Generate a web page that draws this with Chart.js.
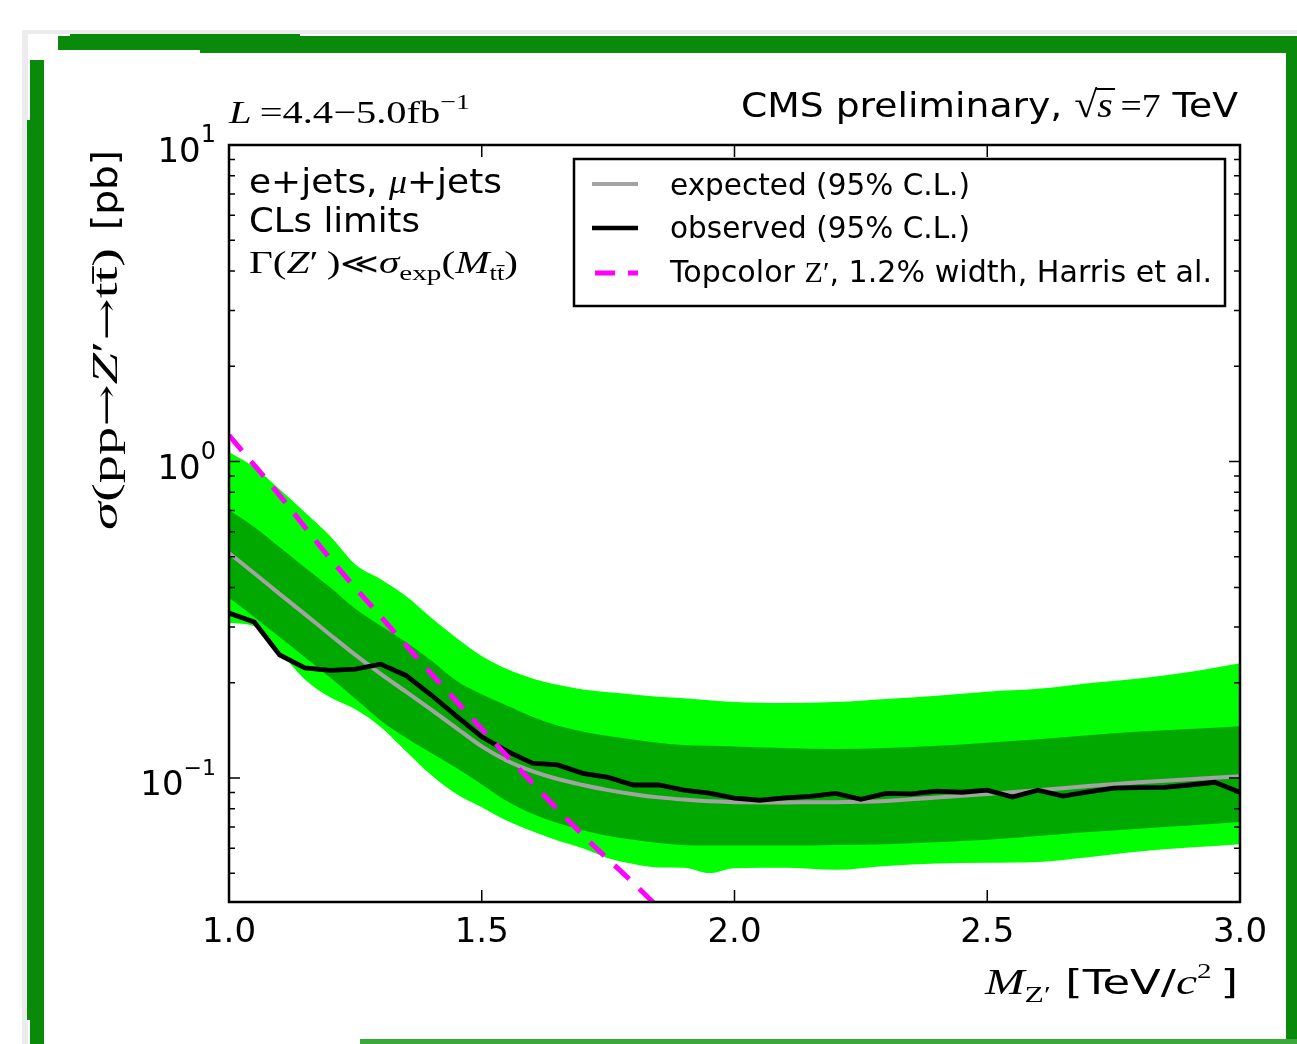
<!DOCTYPE html>
<html><head><meta charset="utf-8">
<script src="https://cdn.jsdelivr.net/npm/chart.js@4/dist/chart.umd.min.js"></script>
<style>html,body{margin:0;padding:0;background:#fff;}canvas{display:block;}</style>
</head><body>
<canvas id="c" width="1297" height="1044"></canvas>
<script>
// ---- data ----
const bandMass = [1.00,1.05,1.10,1.15,1.20,1.25,1.30,1.35,1.40,1.45,1.50,1.55,1.60,1.65,1.70,1.75,1.80,1.85,1.90,1.95,2.00,2.10,2.20,2.30,2.40,2.50,2.60,2.70,2.80,2.90,3.00];
const band2Up = [1.072,0.959,0.817,0.692,0.582,0.473,0.425,0.376,0.321,0.277,0.243,0.221,0.2065,0.197,0.1905,0.1866,0.1837,0.1807,0.1786,0.1762,0.1738,0.1726,0.1738,0.1778,0.182,0.1875,0.1914,0.1995,0.2065,0.2163,0.2307];
const band1Up = [0.703,0.621,0.537,0.463,0.401,0.343,0.303,0.269,0.235,0.203,0.184,0.1694,0.1563,0.1466,0.1403,0.1358,0.1324,0.1294,0.1271,0.1265,0.1259,0.1245,0.1236,0.1245,0.1265,0.1294,0.1327,0.1365,0.1403,0.1429,0.1459];
const expectedLimit = [0.514,0.4436,0.382,0.3296,0.2838,0.2449,0.2133,0.1875,0.1644,0.1439,0.1259,0.1135,0.1052,0.0993,0.0951,0.0916,0.0889,0.0869,0.0855,0.0845,0.0839,0.0838,0.0839,0.0847,0.0868,0.0891,0.0916,0.0944,0.0970,0.0991,0.1014];
const band1Down = [0.371,0.323,0.279,0.241,0.208,0.178,0.152,0.134,0.120,0.1076,0.0955,0.0845,0.0771,0.0721,0.0684,0.0656,0.0638,0.0624,0.0614,0.0612,0.0612,0.0612,0.0615,0.0618,0.0627,0.0638,0.0656,0.0675,0.0692,0.0708,0.0726];
const band2Down = [0.309,0.302,0.251,0.205,0.180,0.165,0.145,0.1216,0.1023,0.0891,0.0809,0.0733,0.0679,0.0635,0.0600,0.0558,0.0535,0.0522,0.0521,0.0501,0.0519,0.0521,0.0513,0.0528,0.0537,0.0540,0.0543,0.0562,0.0586,0.0603,0.0618];

const obsMass = [1.00,1.05,1.10,1.15,1.20,1.25,1.30,1.35,1.40,1.45,1.50,1.55,1.60,1.65,1.70,1.75,1.80,1.85,1.90,1.95,2.00,2.05,2.10,2.15,2.20,2.25,2.30,2.35,2.40,2.45,2.50,2.55,2.60,2.65,2.70,2.75,2.80,2.85,2.90,2.95,3.00];
const observedLimit = [0.332,0.311,0.245,0.223,0.219,0.221,0.229,0.211,0.183,0.157,0.135,0.1216,0.1114,0.110,0.1035,0.1005,0.0951,0.0951,0.0916,0.0897,0.0865,0.0851,0.0866,0.0875,0.0895,0.0857,0.0895,0.0891,0.091,0.0902,0.0916,0.0871,0.0916,0.0877,0.0904,0.0929,0.0933,0.0935,0.0951,0.097,0.0902];

const topMass = [1.0,1.1,1.2,1.3,1.4,1.5,1.6,1.7,1.8,1.9];
const topcolorXsec = [1.21,0.782,0.494,0.324,0.214,0.143,0.0966,0.066,0.0466,0.0324];

const xTicks = [1.0,1.5,2.0,2.5,3.0];
const xTickLabels = ['1.0','1.5','2.0','2.5','3.0'];
const yTicks = [0.1,1,10];
const yTickExp = ['\u22121','0','1'];

const legendLabels = ['expected (95% C.L.)','observed (95% C.L.)'];

// ---- helpers ----
const SANS = 'DejaVu Sans';
const SERIF = 'Liberation Serif';
const ARROWF = 'DejaVu Serif';
function pts(xs, ys){ return xs.map((m,i)=>({x:m,y:ys[i]})); }
function drawRuns(ctx, runs, x, y, align, target){
  let w = 0;
  for (const r of runs){ ctx.font = r.f; r._w = ctx.measureText(r.t).width; w += r._w; }
  const sx = target ? target / w : 1;
  ctx.save();
  ctx.translate(x, y); ctx.scale(sx, 1);
  ctx.textAlign = 'left'; ctx.textBaseline = 'alphabetic';
  let cx = align === 'right' ? -w : (align === 'center' ? -w/2 : 0);
  for (const r of runs){
    ctx.font = r.f;
    ctx.fillText(r.t, cx, r.dy || 0);
    if (r.over){
      ctx.save(); ctx.lineWidth = 2; ctx.beginPath();
      ctx.moveTo(cx - 1, r.over); ctx.lineTo(cx + r._w + 2, r.over); ctx.stroke(); ctx.restore();
    }
    cx += r._w;
  }
  ctx.restore();
}

const decor = {
  id: 'decor',
  beforeDraw(chart){
    const ctx = chart.ctx;
    ctx.save();
    ctx.fillStyle = '#ffffff'; ctx.fillRect(0,0,chart.width,chart.height);
    ctx.fillStyle = '#ececec';
    ctx.fillRect(22,30,1275,4); ctx.fillRect(22,30,6,1014);
    ctx.fillStyle = '#0a8a0a';
    ctx.fillRect(58,36,1239,14);
    ctx.fillRect(200,47,1097,6);
    ctx.fillRect(70,34,230,3);
    ctx.fillRect(30,60,14,984);
    ctx.fillRect(27,120,6,900);
    ctx.fillRect(1286,52,11,992);
    ctx.fillStyle = '#3aa83a';
    ctx.fillRect(360,1039,937,5);
    ctx.restore();
  },
  afterDraw(chart){
    const ctx = chart.ctx, a = chart.chartArea;
    const xs = chart.scales.x, ys = chart.scales.y;
    ctx.save();
    ctx.fillStyle = '#000'; ctx.strokeStyle = '#000';
    // ticks
    ctx.lineWidth = 1.5;
    ctx.beginPath();
    for (const v of xTicks){
      const p = xs.getPixelForValue(v);
      ctx.moveTo(p, a.bottom); ctx.lineTo(p, a.bottom - 12);
      ctx.moveTo(p, a.top); ctx.lineTo(p, a.top + 12);
    }
    for (const v of yTicks){
      const p = ys.getPixelForValue(v);
      ctx.moveTo(a.left, p); ctx.lineTo(a.left + 11, p);
      ctx.moveTo(a.right, p); ctx.lineTo(a.right - 11, p);
    }
    for (let e = -2; e <= 0; e++){
      for (let k = 2; k <= 9; k++){
        const v = k * Math.pow(10, e);
        if (v <= ys.min || v >= ys.max) continue;
        const p = ys.getPixelForValue(v);
        ctx.moveTo(a.left, p); ctx.lineTo(a.left + 6, p);
        ctx.moveTo(a.right, p); ctx.lineTo(a.right - 6, p);
      }
    }
    ctx.stroke();
    ctx.lineWidth = 2.5;
    ctx.strokeRect(a.left, a.top, a.right - a.left, a.bottom - a.top);

    // x tick labels
    ctx.font = '34px "' + SANS + '"'; ctx.textAlign = 'center'; ctx.textBaseline = 'alphabetic';
    xTicks.forEach((v,i)=>{ ctx.fillText(xTickLabels[i], xs.getPixelForValue(v), 942); });
    // y tick labels
    yTicks.forEach((v,i)=>{
      const p = ys.getPixelForValue(v);
      drawRuns(ctx, [{t:'10', f:'34px "'+SANS+'"'}, {t:yTickExp[i], f:(i===0?'22px':'24px')+' "'+SANS+'"', dy:-20}], 216, p + 17, 'right');
    });

    // axis titles
    drawRuns(ctx, [
      {t:'M', f:'italic 36px "'+SERIF+'"'},
      {t:'Z\u2032', f:'24px "'+SERIF+'"', dy:8},
      {t:' [TeV/', f:'34px "'+SANS+'"'},
      {t:'c', f:'italic 36px "'+SERIF+'"'},
      {t:'2', f:'22px "'+SERIF+'"', dy:-16},
      {t:'\u2009]', f:'34px "'+SANS+'"'}
    ], 1238, 994, 'right', 253);
    ctx.save();
    ctx.translate(117, 530); ctx.rotate(-Math.PI/2);
    drawRuns(ctx, [
      {t:'\u03c3', f:'italic 36px "'+SERIF+'"'},
      {t:'(pp', f:'36px "'+SERIF+'"'},
      {t:'\u2192', f:'32px "'+ARROWF+'"'},
      {t:'Z', f:'italic 36px "'+SERIF+'"'},
      {t:'\u2032', f:'36px "'+SERIF+'"'},
      {t:'\u2192', f:'32px "'+ARROWF+'"'},
      {t:'tt\u0304)', f:'36px "'+SERIF+'"'}
    ], 0, 0, 'left', 282);
    drawRuns(ctx, [{t:'[pb]', f:'35px "'+SANS+'"'}], 300, 0, 'left', 80);
    ctx.restore();

    // header texts
    drawRuns(ctx, [
      {t:'L', f:'italic 32px "'+SERIF+'"'},
      {t:'\u2009=4.4\u22125.0fb', f:'32px "'+SERIF+'"'},
      {t:'\u22121', f:'22px "'+SERIF+'"', dy:-14}
    ], 229, 123, 'left', 241);
    drawRuns(ctx, [
      {t:'CMS preliminary, ', f:'34px "'+SANS+'"'},
      {t:'\u221a', f:'38px "'+SERIF+'"'},
      {t:'s', f:'italic 36px "'+SERIF+'"', over:-28},
      {t:'\u2009=7', f:'34px "'+SERIF+'"'},
      {t:' TeV', f:'34px "'+SANS+'"'}
    ], 1238, 117, 'right', 497);

    // inner annotations
    drawRuns(ctx, [
      {t:'e+jets, ', f:'34px "'+SANS+'"'},
      {t:'\u03bc', f:'italic 34px "'+SERIF+'"'},
      {t:'+jets', f:'34px "'+SANS+'"'}
    ], 249, 193, 'left', 253);
    drawRuns(ctx, [{t:'CLs limits', f:'34px "'+SANS+'"'}], 249, 232, 'left', 171);
    drawRuns(ctx, [
      {t:'\u0393(', f:'31px "'+SERIF+'"'},
      {t:'Z', f:'italic 31px "'+SERIF+'"'},
      {t:'\u2032\u2009)', f:'31px "'+SERIF+'"'},
      {t:'\u226a', f:'28px "'+ARROWF+'"'},
      {t:'\u03c3', f:'italic 31px "'+SERIF+'"'},
      {t:'exp', f:'22px "'+SERIF+'"', dy:7},
      {t:'(', f:'31px "'+SERIF+'"'},
      {t:'M', f:'italic 31px "'+SERIF+'"'},
      {t:'tt\u0304', f:'20px "'+SERIF+'"', dy:7},
      {t:')', f:'31px "'+SERIF+'"'}
    ], 249, 273, 'left', 269);

    // legend box
    ctx.fillStyle = '#fff';
    ctx.fillRect(574, 159, 651, 147);
    ctx.lineWidth = 2.5; ctx.strokeStyle = '#000';
    ctx.strokeRect(574, 159, 651, 147);
    ctx.lineCap = 'butt';
    ctx.lineWidth = 4; ctx.strokeStyle = '#a3a3a3';
    ctx.beginPath(); ctx.moveTo(592,184); ctx.lineTo(638,184); ctx.stroke();
    ctx.lineWidth = 4.5; ctx.strokeStyle = '#000';
    ctx.beginPath(); ctx.moveTo(592,228); ctx.lineTo(638,228); ctx.stroke();
    ctx.lineWidth = 5; ctx.strokeStyle = '#ff00ff'; ctx.setLineDash([20,13]);
    ctx.beginPath(); ctx.moveTo(595,273); ctx.lineTo(638,273); ctx.stroke();
    ctx.setLineDash([]);
    ctx.fillStyle = '#000';
    drawRuns(ctx, [{t:legendLabels[0], f:'30px "'+SANS+'"'}], 670, 195, 'left', 300);
    drawRuns(ctx, [{t:legendLabels[1], f:'30px "'+SANS+'"'}], 670, 238, 'left', 300);
    drawRuns(ctx, [
      {t:'Topcolor ', f:'30px "'+SANS+'"'},
      {t:'Z\u2032', f:'30px "'+SERIF+'"'},
      {t:', 1.2% width, Harris et al.', f:'30px "'+SANS+'"'}
    ], 670, 282, 'left', 542);
    ctx.restore();
  }
};

new Chart(document.getElementById('c'), {
  type: 'line',
  data: {
    datasets: [
      {label:'+2 sigma', data: pts(bandMass, band2Up), fill:'+1', backgroundColor:'#00ff00', borderWidth:0, pointRadius:0, cubicInterpolationMode:'monotone', order:10},
      {label:'-2 sigma', data: pts(bandMass, band2Down), fill:false, borderWidth:0, pointRadius:0, cubicInterpolationMode:'monotone', order:10},
      {label:'+1 sigma', data: pts(bandMass, band1Up), fill:'+1', backgroundColor:'#00a800', borderWidth:0, pointRadius:0, cubicInterpolationMode:'monotone', order:9},
      {label:'-1 sigma', data: pts(bandMass, band1Down), fill:false, borderWidth:0, pointRadius:0, cubicInterpolationMode:'monotone', order:9},
      {label:'expected', data: pts(bandMass, expectedLimit), borderColor:'#a3a3a3', borderWidth:4, pointRadius:0, fill:false, cubicInterpolationMode:'monotone', order:5, clip:0},
      {label:'observed', data: pts(obsMass, observedLimit), borderColor:'#000000', borderWidth:4.8, pointRadius:0, fill:false, tension:0, order:4, clip:0},
      {label:'topcolor', data: pts(topMass, topcolorXsec), borderColor:'#ff00ff', borderWidth:5, borderDash:[20,14], pointRadius:0, fill:false, cubicInterpolationMode:'monotone', order:3, clip:0}
    ]
  },
  options: {
    responsive: false,
    animation: false,
    devicePixelRatio: 1,
    layout: { padding: { left:229, right:57, top:145, bottom:142 } },
    scales: {
      x: { type:'linear', min:1.0, max:3.0, display:false },
      y: { type:'logarithmic', min:0.0406, max:10, display:false }
    },
    plugins: { legend:{display:false}, tooltip:{enabled:false} }
  },
  plugins: [decor]
});
</script>
</body></html>
